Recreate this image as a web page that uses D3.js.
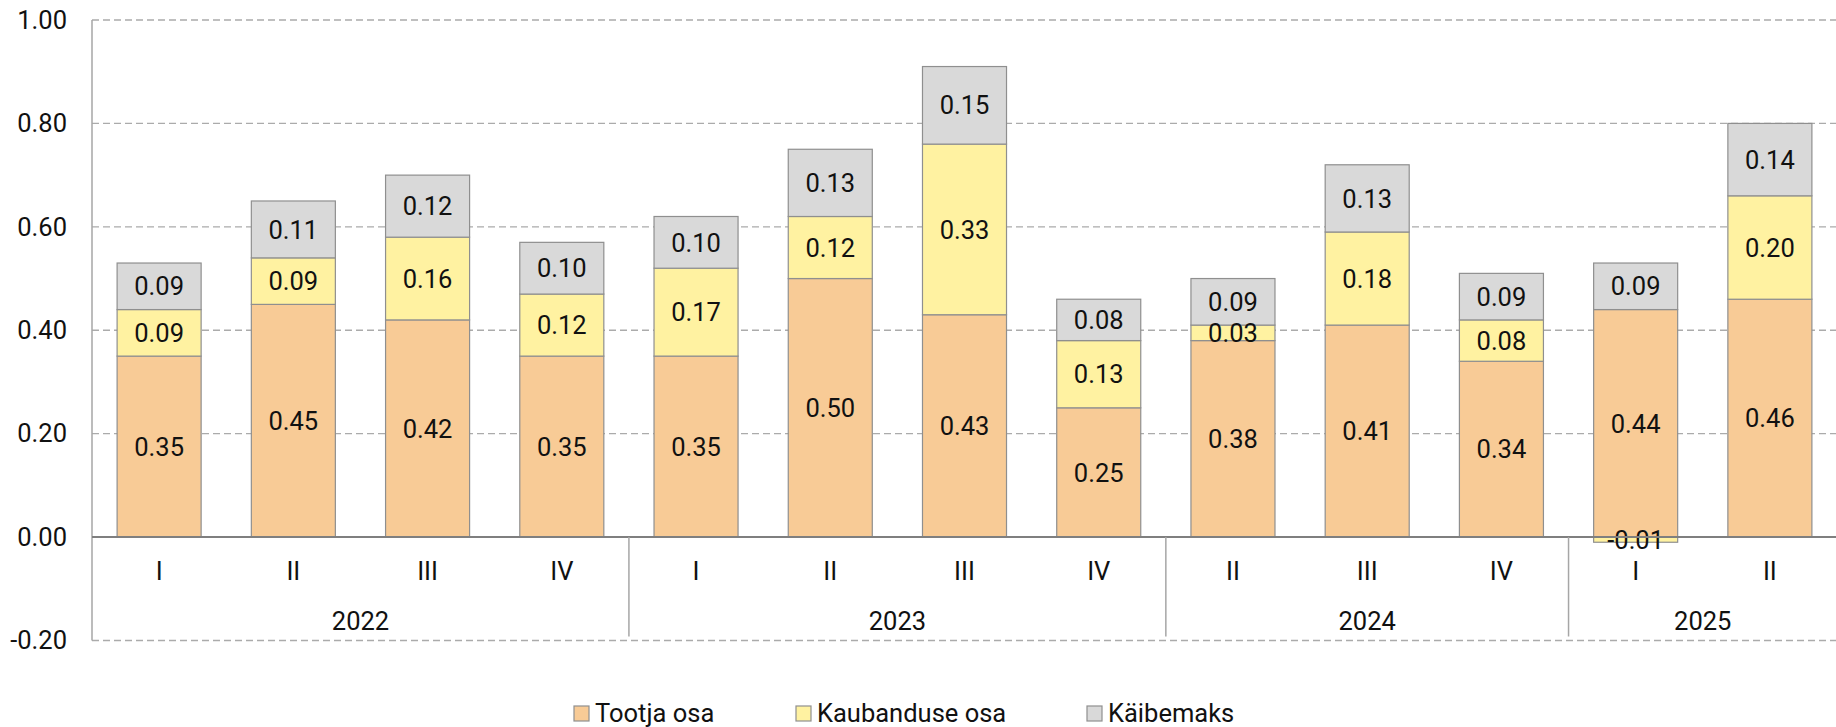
<!DOCTYPE html>
<html>
<head>
<meta charset="utf-8">
<script src="https://cdn.jsdelivr.net/npm/d3@7"></script>
<style>
  html, body { margin: 0; padding: 0; background: #fff; }
  svg { display: block; font-family: Roboto, "Noto Sans", sans-serif; }
</style>
</head>
<body>
<svg id="chart" width="1836" height="727"></svg>
<script>
// Quarters and their years
const quarters = ["I", "II", "III", "IV", "I", "II", "III", "IV", "II", "III", "IV", "I", "II"];
const years = ["2022", "2022", "2022", "2022", "2023", "2023", "2023", "2023", "2024", "2024", "2024", "2025", "2025"];

// Components of the price (per quarter)
const tootja = [0.35, 0.45, 0.42, 0.35, 0.35, 0.50, 0.43, 0.25, 0.38, 0.41, 0.34, 0.44, 0.46];
const kaubandus = [0.09, 0.09, 0.16, 0.12, 0.17, 0.12, 0.33, 0.13, 0.03, 0.18, 0.08, -0.01, 0.20];
const kaibemaks = [0.09, 0.11, 0.12, 0.10, 0.10, 0.13, 0.15, 0.08, 0.09, 0.13, 0.09, 0.09, 0.14];

const seriesNames = ["Tootja osa", "Kaubanduse osa", "Käibemaks"];
const seriesKeys = ["tootja", "kaubandus", "kaibemaks"];
const colors = ["#F8CB96", "#FFF2A1", "#D9D9D9"];

const yTicks = [-0.2, 0, 0.2, 0.4, 0.6, 0.8, 1.0];

const rows = quarters.map((q, i) => ({
  id: i, q, year: years[i],
  tootja: tootja[i], kaubandus: kaubandus[i], kaibemaks: kaibemaks[i]
}));

// Number format with a plain hyphen as the minus sign
const locale = d3.formatLocale({ decimal: ".", thousands: "", grouping: [3], currency: ["", ""], minus: "-" });
const fmt = locale.format(".2f");

const svg = d3.select("#chart");
const mLeft = 92, mRight = 1837, mTop = 20, mBottom = 640.5;

const x = d3.scaleBand().domain(rows.map(d => d.id)).range([mLeft, mRight]).paddingInner(0.374).paddingOuter(0.187);
const y = d3.scaleLinear().domain([-0.2, 1.0]).range([mBottom, mTop]);

// Gridlines
svg.append("g").selectAll("line").data(yTicks.filter(t => t !== 0)).join("line")
  .attr("x1", mLeft).attr("x2", 1836)
  .attr("y1", d => y(d)).attr("y2", d => y(d))
  .attr("stroke", "#ababab").attr("stroke-width", 1.3).attr("stroke-dasharray", "7,4");

// Y axis labels
const yAxis = d3.axisLeft(y).tickValues(yTicks).tickFormat(fmt).tickSize(0).tickPadding(25);
const ga = svg.append("g").attr("transform", `translate(${mLeft},0)`).call(yAxis);
ga.select(".domain").remove();
ga.selectAll("text").attr("font-size", 25.5).attr("fill", "#111").attr("font-family", "Roboto");

// Stacked bars
const stack = d3.stack().keys(seriesKeys).offset(d3.stackOffsetDiverging);
const stacked = stack(rows);

const layers = svg.append("g").selectAll("g").data(stacked).join("g")
  .attr("fill", (d, i) => colors[i]);

layers.selectAll("rect").data(d => d).join("rect")
  .attr("x", d => x(d.data.id))
  .attr("width", x.bandwidth())
  .attr("y", d => y(Math.max(d[0], d[1])))
  .attr("height", d => Math.abs(y(d[0]) - y(d[1])))
  .attr("stroke", "#8f8f8f").attr("stroke-width", 1.2);

// Value labels
const labels = svg.append("g");
stacked.forEach(layer => {
  labels.append("g").selectAll("text").data(layer).join("text")
    .attr("x", d => x(d.data.id) + x.bandwidth() / 2)
    .attr("y", d => y((d[0] + d[1]) / 2))
    .attr("dy", "0.36em")
    .attr("text-anchor", "middle")
    .attr("font-size", 25.5)
    .attr("fill", "#111")
    .text(d => fmt(d.data[layer.key]));
});

// Y axis line
svg.append("line").attr("x1", mLeft).attr("x2", mLeft).attr("y1", mTop).attr("y2", mBottom)
  .attr("stroke", "#a6a6a6").attr("stroke-width", 1.5);

// Zero line
svg.append("line").attr("x1", mLeft).attr("x2", 1836).attr("y1", y(0)).attr("y2", y(0))
  .attr("stroke", "#7f7f7f").attr("stroke-width", 2);

// Year separators
const step = x.step();
const yearGroups = d3.groups(rows, d => d.year);
let idx = 0;
const bounds = [];
yearGroups.forEach(([yr, items]) => {
  const x0 = mLeft + idx * step;
  idx += items.length;
  const x1 = mLeft + idx * step;
  bounds.push({ yr, x0, x1 });
});
svg.append("g").selectAll("line").data(bounds.slice(0, -1)).join("line")
  .attr("x1", d => d.x1).attr("x2", d => d.x1)
  .attr("y1", y(0)).attr("y2", y(-0.2) - 4)
  .attr("stroke", "#a6a6a6").attr("stroke-width", 1.5);

// Quarter labels
svg.append("g").selectAll("text").data(rows).join("text")
  .attr("x", d => x(d.id) + x.bandwidth() / 2)
  .attr("y", 580)
  .attr("text-anchor", "middle")
  .attr("font-size", 25.5).attr("fill", "#111")
  .text(d => d.q);

// Year labels
svg.append("g").selectAll("text").data(bounds).join("text")
  .attr("x", d => (d.x0 + d.x1) / 2)
  .attr("y", 630)
  .attr("text-anchor", "middle")
  .attr("font-size", 25.5).attr("fill", "#111")
  .text(d => d.yr);

// Legend
const legendX = [574, 796, 1087];
const lg = svg.append("g").selectAll("g").data(seriesNames).join("g")
  .attr("transform", (d, i) => `translate(${legendX[i]},706)`);
lg.append("rect").attr("width", 15).attr("height", 15)
  .attr("fill", (d, i) => colors[i]).attr("stroke", "#8f8f8f").attr("stroke-width", 1.2);
lg.append("text").attr("x", 21).attr("y", 16)
  .attr("font-size", 25.5).attr("fill", "#111")
  .text(d => d);
</script>
</body>
</html>
